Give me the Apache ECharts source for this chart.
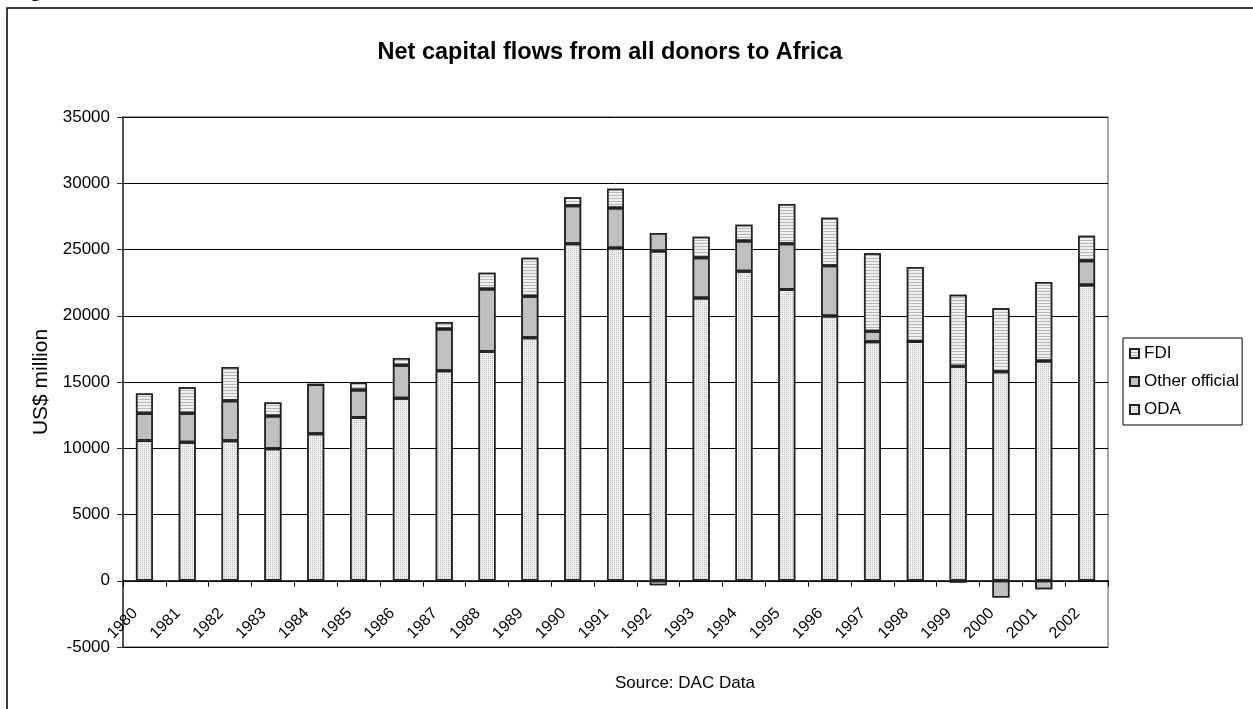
<!DOCTYPE html>
<html>
<head>
<meta charset="utf-8">
<script src="https://cdn.jsdelivr.net/npm/echarts@6/dist/echarts.min.js"></script>
<style>
  html, body { margin: 0; padding: 0; background: #fff; }
  #chart { width: 1253px; height: 709px; }
</style>
</head>
<body>
<div id="chart"></div>
<script>
// Net capital flows to Africa, US$ million (source: DAC)
const years = ['1980','1981','1982','1983','1984','1985','1986','1987','1988','1989','1990',
               '1991','1992','1993','1994','1995','1996','1997','1998','1999','2000','2001','2002'];
const oda = [10590, 10460, 10560, 9955, 11090, 12330, 13780, 15850, 17310, 18340, 25440,
             25110, 24890, 21340, 23350, 21990, 19980, 18040, 18060, 16180, 15770, 16580, 22320];
const otherOfficial = [2060, 2190, 3020, 2470, 3730, 2060, 2490, 3150, 4705, 3125, 2870,
                       3020, 1360, 3045, 2290, 3445, 3800, 785, 0, -140, -1270, -640, 1835];
const fdi = [1490, 1960, 2545, 1035, 0, 580, 550, 530, 1230, 2915, 635,
             1460, -340, 1585, 1230, 3000, 3625, 5890, 5615, 5410, 4790, 5965, 1890];
const yTicks = { min: -5000, max: 35000, step: 5000 };

const FONT = '"Liberation Sans", Arial, sans-serif';
const edge = { borderColor: '#222', borderWidth: 1.5 };

// plot box
const GRID = { left: 123, top: 117, width: 985, height: 530 };
// the category axis sits on the zero line of the value axis
const zeroOffset = -GRID.height * (0 - yTicks.min) / (yTicks.max - yTicks.min);

const chart = echarts.init(document.getElementById('chart'), null, { renderer: 'canvas' });

chart.setOption({
  animation: false,
  aria: { enabled: true, decal: { show: true } },
  textStyle: { fontFamily: FONT, color: '#000' },
  title: {
    text: 'Net capital flows from all donors to Africa',
    left: 605, top: 36, textAlign: 'center',
    textStyle: { fontFamily: FONT, fontSize: 23.5, fontWeight: 'bold', color: '#000' }
  },
  graphic: [
    { type: 'rect', shape: { x: 7, y: 8, width: 1270, height: 730 }, silent: true,
      style: { fill: 'none', stroke: '#000', lineWidth: 1.5 } },
    { type: 'text', left: 14, top: -17, silent: true,
      style: { text: 'Figure', font: 'bold 19px "Liberation Serif", serif', fill: '#000' } },
    { type: 'rect', shape: { x: GRID.left, y: GRID.top, width: GRID.width, height: GRID.height },
      silent: true, z: 0,
      style: { fill: 'none', stroke: '#8c8c8c', lineWidth: 1.5 } },
    { type: 'text', left: 615, top: 675, silent: true,
      style: { text: 'Source: DAC Data', font: '17px ' + FONT, fill: '#000', textAlign: 'center' } }
  ],
  legend: {
    orient: 'vertical', left: 1123, top: 338,
    data: ['FDI', 'Other official', 'ODA'],
    itemWidth: 9, itemHeight: 9, itemGap: 11,
    padding: [7, 3, 7, 6],
    borderColor: '#000', borderWidth: 1,
    textStyle: { fontFamily: FONT, fontSize: 17, color: '#000' },
    icon: 'rect'
  },
  grid: { left: GRID.left, top: GRID.top, width: GRID.width, height: GRID.height, containLabel: false },
  xAxis: {
    type: 'category', data: years, boundaryGap: true,
    position: 'bottom', offset: zeroOffset,
    axisLine: { onZero: false, lineStyle: { color: '#000', width: 1.5 } },
    axisTick: { show: true, alignWithLabel: false, length: 6, lineStyle: { color: '#000' } },
    axisLabel: { rotate: 45, fontSize: 16, color: '#000', margin: 21, interval: 0,
                 fontFamily: FONT, padding: [0, 13, 0, 0] },
    splitLine: { show: false }
  },
  yAxis: {
    type: 'value', min: yTicks.min, max: yTicks.max, interval: yTicks.step,
    name: 'US$ million', nameLocation: 'middle', nameRotate: 90, nameGap: 71,
    nameTextStyle: { fontFamily: FONT, fontSize: 21, color: '#000' },
    axisLine: { show: true, lineStyle: { color: '#333', width: 1.5 } },
    axisTick: { show: true, length: 6, lineStyle: { color: '#333' } },
    axisLabel: { fontSize: 17, color: '#000', margin: 13, fontFamily: FONT,
                 formatter: v => String(v) },
    splitLine: { show: true, lineStyle: { color: '#000', width: 1 } }
  },
  series: [
    {
      name: 'ODA', type: 'bar', stack: 'flows', data: oda, barWidth: 17,
      itemStyle: Object.assign({
        color: '#f2f2f2',
        decal: { symbol: 'rect', symbolSize: 1, color: 'rgba(120,120,120,0.45)',
                 dashArrayX: [1, 1], dashArrayY: [1, 1], rotation: 0 }
      }, edge)
    },
    {
      name: 'Other official', type: 'bar', stack: 'flows', data: otherOfficial, barWidth: 17,
      itemStyle: Object.assign({ color: '#c0c0c0', decal: { symbol: 'none' } }, edge)
    },
    {
      name: 'FDI', type: 'bar', stack: 'flows', data: fdi, barWidth: 17,
      itemStyle: Object.assign({
        color: '#f0f0f0',
        decal: { symbol: 'rect', symbolSize: 1, color: 'rgba(110,110,110,0.45)',
                 dashArrayX: [1, 0], dashArrayY: [1, 2], rotation: 0 }
      }, edge)
    }
  ]
});
</script>
</body>
</html>
